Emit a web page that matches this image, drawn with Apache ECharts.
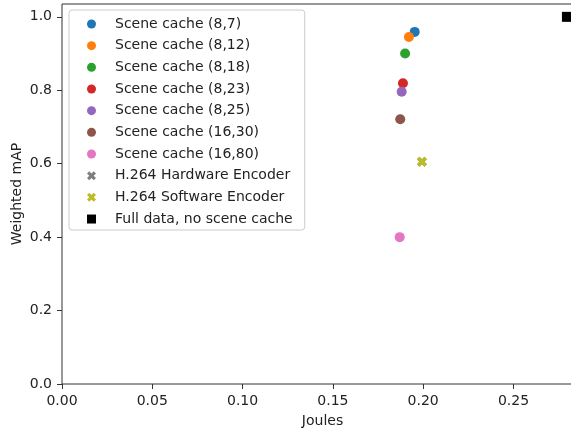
<!DOCTYPE html>
<html>
<head>
<meta charset="utf-8">
<script src="https://cdn.jsdelivr.net/npm/echarts@6/dist/echarts.min.js"></script>
<style>
html,body{margin:0;padding:0;background:#fff;}
#c{width:571px;height:430px;}
</style>
</head>
<body>
<div id="c"></div>
<script>
var seriesNames = ["Scene cache (8,7)", "Scene cache (8,12)", "Scene cache (8,18)", "Scene cache (8,23)", "Scene cache (8,25)", "Scene cache (16,30)", "Scene cache (16,80)", "H.264 Hardware Encoder", "H.264 Software Encoder", "Full data, no scene cache"];
var joules = [0.1953, 0.1921, 0.1900, 0.1888, 0.1881, 0.1873, 0.1870, 0.1993, 0.1993, 0.2796];
var weightedMAP = [0.959, 0.945, 0.900, 0.819, 0.796, 0.721, 0.400, 0.605, 0.605, 1.000];
var xTicks = [0, 0.05, 0.10, 0.15, 0.20, 0.25];
var yTicks = [0, 0.2, 0.4, 0.6, 0.8, 1.0];

var colors = ["#1f77b4", "#ff7f0e", "#2ca02c", "#d62728", "#9467bd", "#8c564b", "#e377c2", "#7f7f7f", "#bcbd22", "#000000"];
var xPath = "path://M0,2.5 L2.5,0 L5,2.5 L7.5,0 L10,2.5 L7.5,5 L10,7.5 L7.5,10 L5,7.5 L2.5,10 L0,7.5 L2.5,5 Z";
var sqPath = "path://M0,0 L10,0 L10,10 L0,10 Z";
var symbols = ["circle","circle","circle","circle","circle","circle","circle", xPath, xPath, sqPath];
var sizes = [10,10,10,10,10,10,10,10,10,10];

var font = "DejaVu Sans";
var series = seriesNames.map(function (n, i) {
  return {
    type: "scatter",
    name: n,
    data: [[joules[i], weightedMAP[i]]],
    symbol: symbols[i],
    symbolSize: sizes[i],
    itemStyle: { color: colors[i], opacity: 1 },
    emphasis: { disabled: true },
    z: 2 + i
  };
});

var chart = echarts.init(document.getElementById("c"), null, { renderer: "canvas" });
chart.setOption({
  animation: false,
  backgroundColor: "#fff",
  textStyle: { fontFamily: font },
  grid: {
    left: 62, top: 4, right: -12, bottom: 46,
    outerBoundsMode: "none",
    containLabel: false,
    show: true, borderColor: "#333", borderWidth: 1, backgroundColor: "transparent"
  },
  xAxis: {
    type: "value",
    min: 0, max: 0.2885,
    name: "Joules", nameLocation: "middle", nameGap: 30, nameMoveOverlap: false,
    nameTextStyle: { fontSize: 14, color: "#222", fontFamily: font },
    axisLine: { show: false },
    axisTick: { show: true, length: 5, lineStyle: { color: "#333" }, customValues: xTicks },
    axisLabel: { fontSize: 14, color: "#222", margin: 10, fontFamily: font, customValues: xTicks,
      formatter: function (v) { return v.toFixed(2); } },
    splitLine: { show: false }
  },
  yAxis: {
    type: "value",
    min: 0, max: 1.035,
    name: "Weighted mAP", nameLocation: "middle", nameGap: 38, nameMoveOverlap: false,
    nameTextStyle: { fontSize: 14, color: "#222", fontFamily: font },
    axisLine: { show: false },
    axisTick: { show: true, length: 5, lineStyle: { color: "#333" }, customValues: yTicks },
    axisLabel: { fontSize: 14, color: "#222", margin: 10, fontFamily: font, customValues: yTicks,
      formatter: function (v) { return v.toFixed(1); } },
    splitLine: { show: false }
  },
  legend: {
    orient: "vertical",
    left: 69, top: 10,
    padding: [7, 12, 4, 18],
    itemWidth: 9, itemHeight: 9, itemGap: 7.67,
    backgroundColor: "rgba(255,255,255,0.8)",
    borderColor: "#cccccc", borderWidth: 1, borderRadius: 3,
    textStyle: { fontSize: 14, color: "#222", fontFamily: font, padding: [0, 0, 0, 14] },
    selectedMode: false,
    data: seriesNames.map(function (n, i) { return { name: n, icon: symbols[i] }; }),
    z: 20
  },
  series: series
});
</script>
</body>
</html>
